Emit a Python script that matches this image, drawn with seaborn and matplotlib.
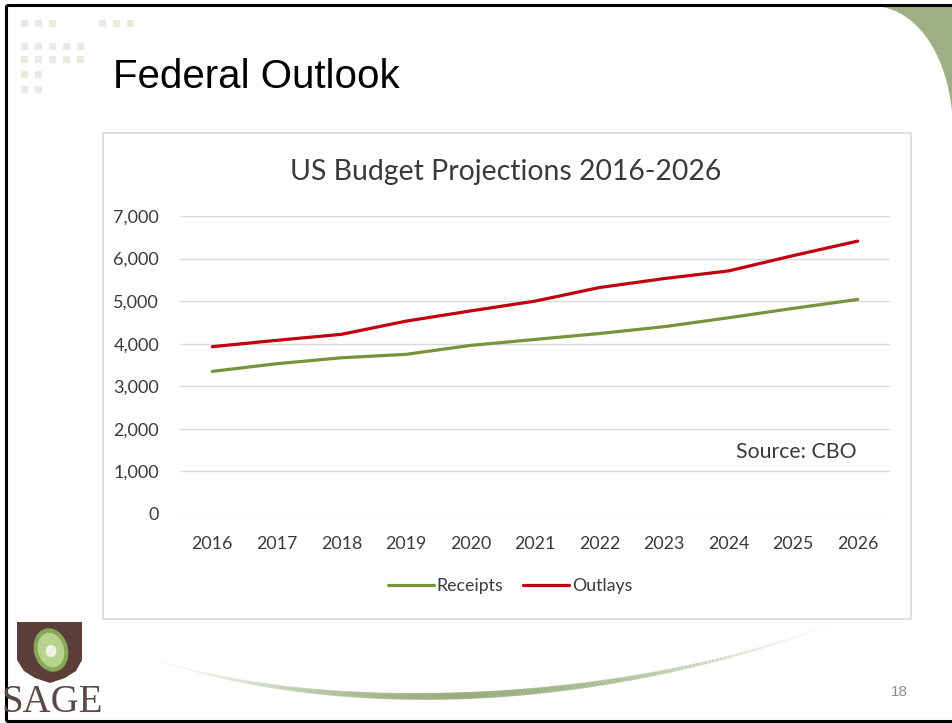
import numpy as np
import pandas as pd
import matplotlib
matplotlib.use("Agg")
import matplotlib.pyplot as plt
from matplotlib.patches import Rectangle, Polygon, Ellipse
from matplotlib.collections import LineCollection
from matplotlib.lines import Line2D
import seaborn as sns

# CBO budget projections, billions of dollars
years = [2016, 2017, 2018, 2019, 2020, 2021, 2022, 2023, 2024, 2025, 2026]
receipts = [3350, 3530, 3670, 3750, 3960, 4100, 4240, 4400, 4610, 4830, 5040]
outlays = [3930, 4080, 4220, 4530, 4770, 5000, 5320, 5530, 5710, 6070, 6410]
y_ticks = [0, 1000, 2000, 3000, 4000, 5000, 6000, 7000]
series_names = ["Receipts", "Outlays"]

sns.set_theme(style="white")
plt.rcParams["font.family"] = ["Lato", "DejaVu Sans"]

W, H = 953, 723
fig = plt.figure(figsize=(W / 100, H / 100), dpi=100)
fig.patch.set_facecolor("white")

# ---- slide background layer (pixel coordinates) ----
bg = fig.add_axes([0, 0, 1, 1], zorder=0)
bg.set_xlim(0, W)
bg.set_ylim(H, 0)
bg.axis("off")

# slide frame
bg.plot([6, W], [5, 5], color="black", lw=2.2, solid_capstyle="butt")
bg.plot([6, 6], [5, 721], color="black", lw=2.2, solid_capstyle="butt")
bg.plot([6, W], [721, 721], color="black", lw=2.2, solid_capstyle="butt")

# green corner
t = np.linspace(0, np.pi / 2, 80)
cx, cy, rx, ry = 862, 132, 91, 127
arc_x = cx + rx * np.sin(t) ** 0.85
arc_y = cy - ry * np.cos(t)
corner = np.column_stack([np.r_[arc_x, W, W], np.r_[arc_y, cy, 6]])
bg.add_patch(Polygon(corner, closed=True, facecolor="#9db085", edgecolor="none"))

# dotted ornament
sq = "#e9e9e2"
rows = [(23, [25, 39, 53, 103, 117, 131]),
        (46, [25, 39, 53, 67, 81]),
        (59, [25, 39, 53, 67, 81]),
        (74, [25, 39]),
        (89, [25, 39])]
for yy, xs in rows:
    for xx in xs:
        bg.add_patch(Rectangle((xx - 3.5, yy - 3.5), 7, 7, facecolor=sq, edgecolor="none"))

# slide title
bg.text(113, 77, "Federal Outlook", fontsize=29, color="black",
        family=["Liberation Sans", "DejaVu Sans"], va="center", ha="left")

# chart frame
bg.add_patch(Rectangle((103, 133), 808, 486, facecolor="white", edgecolor="#d9d9d9", lw=1.2))

# bottom swoosh
P = np.array([[135, 652], [300, 716], [600, 716], [848, 618]])
tt = np.linspace(0, 1, 200)
curve = ((1 - tt) ** 3)[:, None] * P[0] + (3 * (1 - tt) ** 2 * tt)[:, None] * P[1] \
    + (3 * (1 - tt) * tt ** 2)[:, None] * P[2] + (tt ** 3)[:, None] * P[3]
segs = np.stack([curve[:-1], curve[1:]], axis=1)
tm = (tt[:-1] + tt[1:]) / 2
prof = np.clip(np.sin(np.pi * tm) ** 1.5, 0, 1)
fade = np.clip(tm / 0.5, 0, 1) ** 1.4 * np.clip((1 - tm) / 0.5, 0, 1) ** 1.0
base = np.array([0.58, 0.67, 0.47])
cols = [(*base, a) for a in np.clip(fade, 0, 1) * 0.72]
lc = LineCollection(segs, colors=cols, linewidths=0.6 + 4.4 * prof, capstyle="round")
bg.add_collection(lc)

# page number
bg.text(899, 692, "18", fontsize=11, color="#8c8c8c",
        family=["Liberation Sans", "DejaVu Sans"], ha="center", va="center")

# logo
shield = np.array([[17, 622], [82, 622], [82, 660], [76, 671], [65, 678], [50, 683],
                   [35, 678], [24, 671], [17, 660]])
bg.add_patch(Polygon(shield, closed=True, facecolor="#5b3d39", edgecolor="none"))
bg.add_patch(Ellipse((51, 650), 34, 44, angle=-15, facecolor="#86a857", edgecolor="none"))
bg.add_patch(Ellipse((51, 650), 26, 35, angle=-15, facecolor="#b9d28e", edgecolor="none"))
bg.add_patch(Ellipse((51, 651), 11, 12, facecolor="#eef3e4", edgecolor="none"))
bg.text(52, 703, "SAGE", fontsize=28, color="#5a4846",
        family=["Liberation Serif", "DejaVu Serif"], ha="center", va="center")

# ---- chart ----
x0, x1, ytop, ybot = 180, 890, 216, 514
ax = fig.add_axes([x0 / W, 1 - ybot / H, (x1 - x0) / W, (ybot - ytop) / H], zorder=2)
ax.set_facecolor("none")

df = pd.DataFrame({
    "pos": list(range(len(years))) * 2,
    "value": receipts + outlays,
    "series": [series_names[0]] * len(years) + [series_names[1]] * len(years),
})
palette = {"Receipts": "#77933c", "Outlays": "#c0000f"}
sns.lineplot(data=df, x="pos", y="value", hue="series", palette=palette,
             linewidth=2.3, ax=ax, legend=False)
for ln in ax.lines:
    ln.set_solid_capstyle("round")
    ln.set_clip_on(False)

ax.set_xlim(-0.5, len(years) - 0.5)
ax.set_ylim(0, 7000)
ax.set_yticks(y_ticks)
ax.set_yticklabels([f"{v:,}" for v in y_ticks])
ax.set_xticks(range(len(years)))
ax.set_xticklabels([str(y) for y in years])
ax.grid(axis="y", color="#d9d9d9", lw=1.0)
ax.grid(axis="x", visible=False)
ax.set_axisbelow(True)
for s in ax.spines.values():
    s.set_visible(False)
ax.tick_params(axis="y", length=0, pad=15, labelsize=13, labelcolor="#3a3a3a")
ax.tick_params(axis="x", length=0, pad=16, labelsize=12.8, labelcolor="#3a3a3a")
ax.set_xlabel("")
ax.set_ylabel("")

fig.text(506 / W, 1 - 172 / H, "US Budget Projections 2016-2026", fontsize=20.4,
         color="#3a3a3a", ha="center", va="center")
fig.text(857 / W, 1 - 452 / H, "Source: CBO", fontsize=15.3, color="#3a3a3a",
         ha="right", va="center")

handles = [Line2D([], [], color=palette[n], lw=2.3) for n in series_names]
fig.legend(handles, series_names, loc="center", bbox_to_anchor=(510 / W, 1 - 586 / H),
           ncol=2, frameon=False, fontsize=12.8, handlelength=2.6, handletextpad=0.15,
           columnspacing=1.1, labelcolor="#3a3a3a")

fig.savefig("out.png", dpi=100)
